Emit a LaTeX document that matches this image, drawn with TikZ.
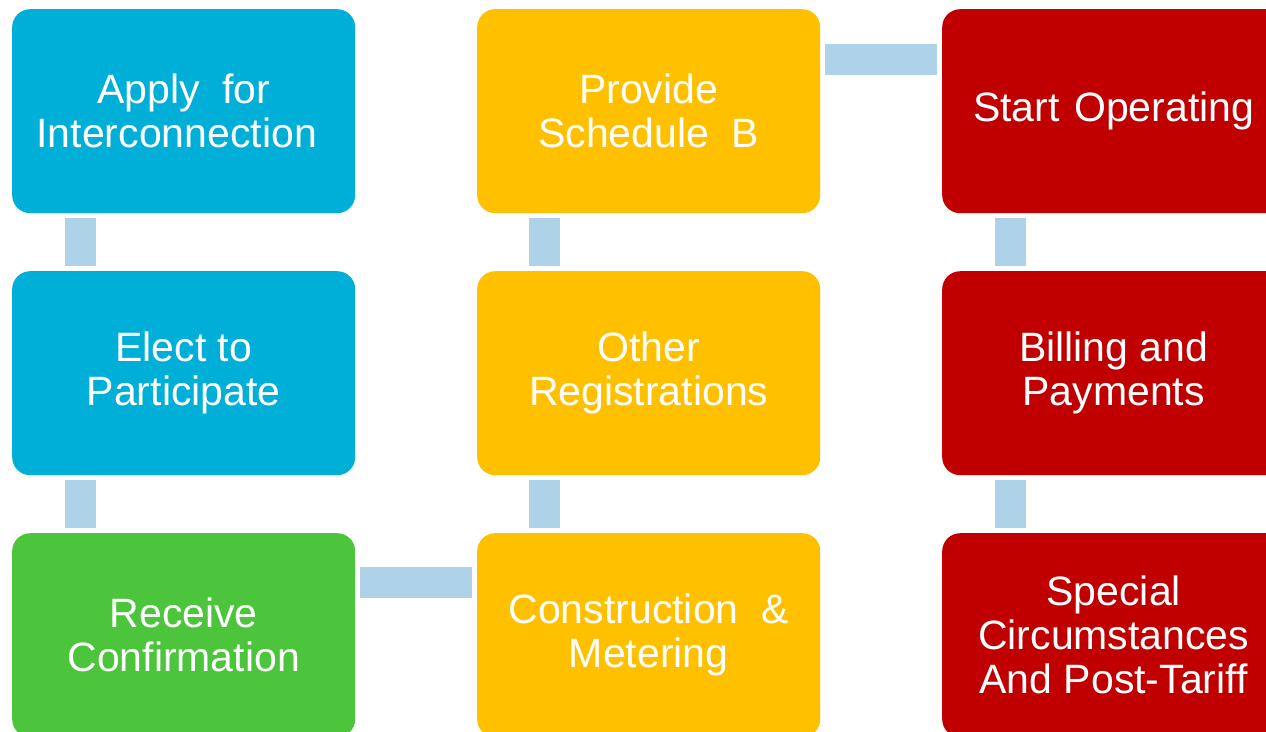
\documentclass[tikz,border=0pt]{standalone}
\usepackage{fontspec}
\setmainfont{Liberation Sans}
\definecolor{cblue}{RGB}{0,175,216}
\definecolor{cyellow}{RGB}{255,192,0}
\definecolor{cgreen}{RGB}{76,196,59}
\definecolor{cred}{RGB}{192,0,0}
\definecolor{clink}{RGB}{174,211,232}
\begin{document}
\begin{tikzpicture}[x=1pt,y=-1pt,
  stepbox/.style={rounded corners=18pt, minimum width=343pt, minimum height=204pt,
    anchor=north west, inner sep=0pt, align=center, text=white,
    font=\fontsize{41}{44}\selectfont},
  link/.style={draw=clink, line width=31pt, shorten <=5pt, shorten >=5pt}]
\useasboundingbox (0,0) rectangle (1266,731);
\clip (0,0) rectangle (1266,731);
\fill[white] (0,0) rectangle (1266,731);
% column 1
\node[stepbox, fill=cblue] (apply) at (12,9) {Apply\ \ for\\Interconnection\hspace*{14pt}};
\node[stepbox, fill=cblue] (elect) at (12,271) {Elect to\\Participate};
\node[stepbox, fill=cgreen] (receive) at (12,533) {Receive\\Confirmation};
% column 2
\node[stepbox, fill=cyellow] (provide) at (477,9) {Provide\\Schedule\ \ B};
\node[stepbox, fill=cyellow] (other) at (477,271) {Other\\Registrations};
\node[stepbox, fill=cyellow] (constr) at (477,533) {Construction\ \ \&\\Metering};
% column 3
\node[stepbox, fill=cred] (start) at (942,9) {Start\hspace{0.35em}Operating};
\node[stepbox, fill=cred] (billing) at (942,271) {Billing and\\Payments};
\node[stepbox, fill=cred] (special) at (942,533) {Special\\Circumstances\\And Post-Tariff};
% connectors
\draw[link] ([xshift=68.5pt]apply.south west) -- ([xshift=68.5pt]elect.north west);
\draw[link] ([xshift=68.5pt]elect.south west) -- ([xshift=68.5pt]receive.north west);
\draw[link] ([yshift=-49.5pt]receive.north east) -- ([yshift=-49.5pt]constr.north west);
\draw[link] ([xshift=67.5pt]constr.north west) -- ([xshift=67.5pt]other.south west);
\draw[link] ([xshift=67.5pt]other.north west) -- ([xshift=67.5pt]provide.south west);
\draw[link] ([yshift=-50pt]provide.north east) -- ([yshift=-50pt]start.north west);
\draw[link] ([xshift=68.5pt]start.south west) -- ([xshift=68.5pt]billing.north west);
\draw[link] ([xshift=68.5pt]billing.south west) -- ([xshift=68.5pt]special.north west);
\end{tikzpicture}
\end{document}
